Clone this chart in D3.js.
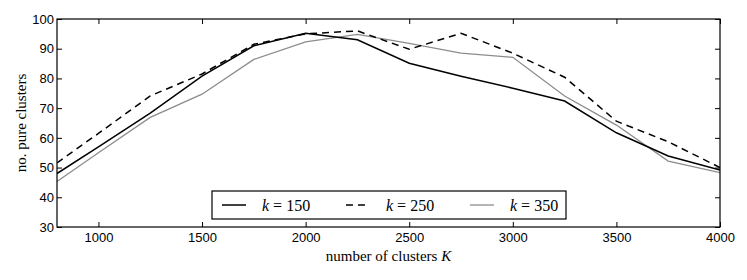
<!DOCTYPE html>
<html lang="en">
<head>
<meta charset="UTF-8">
<title>Pure clusters vs number of clusters</title>
<script src="https://d3js.org/d3.v7.min.js"></script>
<style>
    body { margin: 0; background: #fff; }
    svg { font-family: "Liberation Serif", "DejaVu Serif", serif; }
    .tick text { font-size: 13px; fill: #000; }
</style>
</head>
<body>
<div id="chart"></div>
<script>
    const numClusters = [800, 1000, 1250, 1500, 1750, 2000, 2250, 2500, 2750, 3000, 3250, 3500, 3750, 4000];
    const k150 = [48, 57, 68.3, 80.8, 91, 95.2, 93, 85.1, 80.7, 76.7, 72.4, 61.7, 53.9, 49.2];
    const k250 = [51.6, 61.5, 74.1, 81.5, 91.5, 95, 96, 89.8, 95.2, 88.5, 80.4, 65.6, 58.7, 50];
    const k350 = [45.3, 55, 66.9, 74.7, 86.4, 92.3, 94.8, 91.8, 88.5, 87.1, 74.1, 64.3, 52.2, 48.3];
    const xTicks = [1000, 1500, 2000, 2500, 3000, 3500, 4000];
    const yTicks = [30, 40, 50, 60, 70, 80, 90, 100];

    const series = [
        { label: "150", values: k150, color: "#000", dash: null },
        { label: "250", values: k250, color: "#000", dash: "7,5" },
        { label: "350", values: k350, color: "#8c8c8c", dash: null }
    ];

    const width = 747, height = 280;
    const margin = { top: 19, right: 27, bottom: 53, left: 57 };
    const w = width - margin.left - margin.right;
    const h = height - margin.top - margin.bottom;

    const svg = d3.select("#chart").append("svg")
        .attr("width", width)
        .attr("height", height);

    const g = svg.append("g")
        .attr("transform", `translate(${margin.left},${margin.top})`);

    const x = d3.scaleLinear().domain([800, 4000]).range([0, w]);
    const y = d3.scaleLinear().domain([30, 100]).range([h, 0]);

    // ticks point inward on all four sides
    const tl = 5;
    g.append("g").attr("transform", `translate(0,${h})`)
        .call(d3.axisBottom(x).tickValues(xTicks).tickSizeInner(-tl).tickSizeOuter(0)
            .tickPadding(6).tickFormat(d3.format("d")))
        .call(a => a.select(".domain").remove());
    g.append("g")
        .call(d3.axisTop(x).tickValues(xTicks).tickSizeInner(-tl).tickSizeOuter(0).tickFormat(""))
        .call(a => a.select(".domain").remove());
    g.append("g")
        .call(d3.axisLeft(y).tickValues(yTicks).tickSizeInner(-tl).tickSizeOuter(0).tickPadding(3))
        .call(a => a.select(".domain").remove());
    g.append("g").attr("transform", `translate(${w},0)`)
        .call(d3.axisRight(y).tickValues(yTicks).tickSizeInner(-tl).tickSizeOuter(0).tickFormat(""))
        .call(a => a.select(".domain").remove());

    g.selectAll(".tick text").attr("font-family", null).attr("font-size", null);

    const line = d3.line()
        .x((d, i) => x(numClusters[i]))
        .y(d => y(d));

    g.append("clipPath").attr("id", "clip")
        .append("rect").attr("width", w).attr("height", h);

    g.selectAll(".series")
        .data(series.slice().reverse())
        .enter().append("path")
        .attr("class", "series")
        .attr("clip-path", "url(#clip)")
        .attr("d", d => line(d.values))
        .attr("fill", "none")
        .attr("stroke", d => d.color)
        .attr("stroke-width", d => d.color === "#000" ? 1.5 : 1.3)
        .attr("stroke-dasharray", d => d.dash);

    g.append("rect")
        .attr("width", w).attr("height", h)
        .attr("fill", "none").attr("stroke", "#000").attr("stroke-width", 1.2);

    // legend
    const lg = svg.append("g").attr("transform", "translate(212,191)");
    lg.append("rect")
        .attr("width", 354).attr("height", 28)
        .attr("fill", "#fff").attr("stroke", "#000").attr("stroke-width", 1.2);
    const item = lg.selectAll(".item")
        .data(series)
        .enter().append("g")
        .attr("transform", (d, i) => `translate(${10 + i * 124},14)`);
    item.append("line")
        .attr("x1", 0).attr("x2", 24)
        .attr("stroke", d => d.color)
        .attr("stroke-width", d => d.color === "#000" ? 1.5 : 1.3)
        .attr("stroke-dasharray", d => d.dash);
    const lt = item.append("text")
        .attr("x", 40).attr("y", 5.5)
        .attr("font-size", 16);
    lt.append("tspan").attr("font-style", "italic").text("k");
    lt.append("tspan").text(d => " = " + d.label);

    // axis labels
    const xl = svg.append("text")
        .attr("x", margin.left + w / 2).attr("y", 261)
        .attr("text-anchor", "middle").attr("font-size", 15);
    xl.append("tspan").text("number of clusters ");
    xl.append("tspan").attr("font-style", "italic").text("K");

    svg.append("text")
        .attr("transform", `translate(26,${margin.top + h / 2}) rotate(-90)`)
        .attr("text-anchor", "middle").attr("font-size", 15)
        .text("no. pure clusters");
</script>
</body>
</html>
